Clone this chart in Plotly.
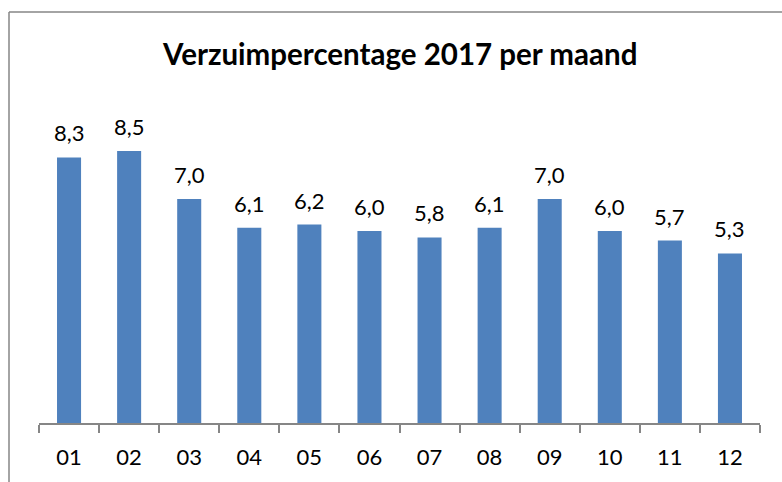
import plotly.graph_objects as go

months = ["01", "02", "03", "04", "05", "06", "07", "08", "09", "10", "11", "12"]
values = [8.3, 8.5, 7.0, 6.1, 6.2, 6.0, 5.8, 6.1, 7.0, 6.0, 5.7, 5.3]
title_text = "Verzuimpercentage 2017 per maand"

W, H = 782, 482
L, R, T, B = 39, 22, 103, 59
pw, ph = W - L - R, H - T - B

FONT = "Lato, 'Open Sans', sans-serif"

fig = go.Figure()
fig.add_trace(go.Bar(
    x=months, y=values,
    marker=dict(color="#4F81BD", line=dict(width=0)),
    hoverinfo="skip",
))

annotations = []
for i, v in enumerate(values):
    annotations.append(dict(
        x=i, y=v, xref="x", yref="y",
        text=f"{v:.1f}".replace(".", ","),
        showarrow=False, yanchor="bottom", yshift=9,
        font=dict(family=FONT, size=22, color="#000000"),
    ))
annotations.append(dict(
    x=0.5, y=(H - 53 - B) / ph, xref="paper", yref="paper",
    text=f"<b>{title_text}</b>", showarrow=False,
    xanchor="center", yanchor="middle",
    font=dict(family=FONT, size=29.5, color="#000000"),
))

# chart-area border (left and top edges visible)
bx0 = (9 - L) / pw
bx1 = (W + 5 - L) / pw
by_top = (H - 12 - B) / ph
by_bot = (-5 - B) / ph
shapes = [
    dict(type="line", xref="paper", yref="paper", x0=bx0, x1=bx0, y0=by_bot, y1=by_top,
         line=dict(color="#868686", width=1.5)),
    dict(type="line", xref="paper", yref="paper", x0=bx0, x1=bx1, y0=by_top, y1=by_top,
         line=dict(color="#868686", width=1.5)),
]

fig.update_layout(
    width=W, height=H,
    margin=dict(l=L, r=R, t=T, b=B),
    paper_bgcolor="white", plot_bgcolor="white",
    bargap=0.6,
    showlegend=False,
    annotations=annotations,
    shapes=shapes,
    xaxis=dict(
        type="category", range=[-0.5, 11.5],
        showline=True, linecolor="#868686", linewidth=1.5,
        ticks="outside", tickson="boundaries", ticklen=8, tickcolor="#868686", tickwidth=1.5,
        tickfont=dict(family=FONT, size=22, color="#000000"),
        ticklabelstandoff=14,
        showgrid=False, zeroline=False,
    ),
    yaxis=dict(range=[0, 10], visible=False, showgrid=False, zeroline=False),
)

fig.write_html(
    "out.html",
    config={"displayModeBar": False},
    post_script="document.body.style.margin='0';document.body.style.overflow='hidden';",
)
